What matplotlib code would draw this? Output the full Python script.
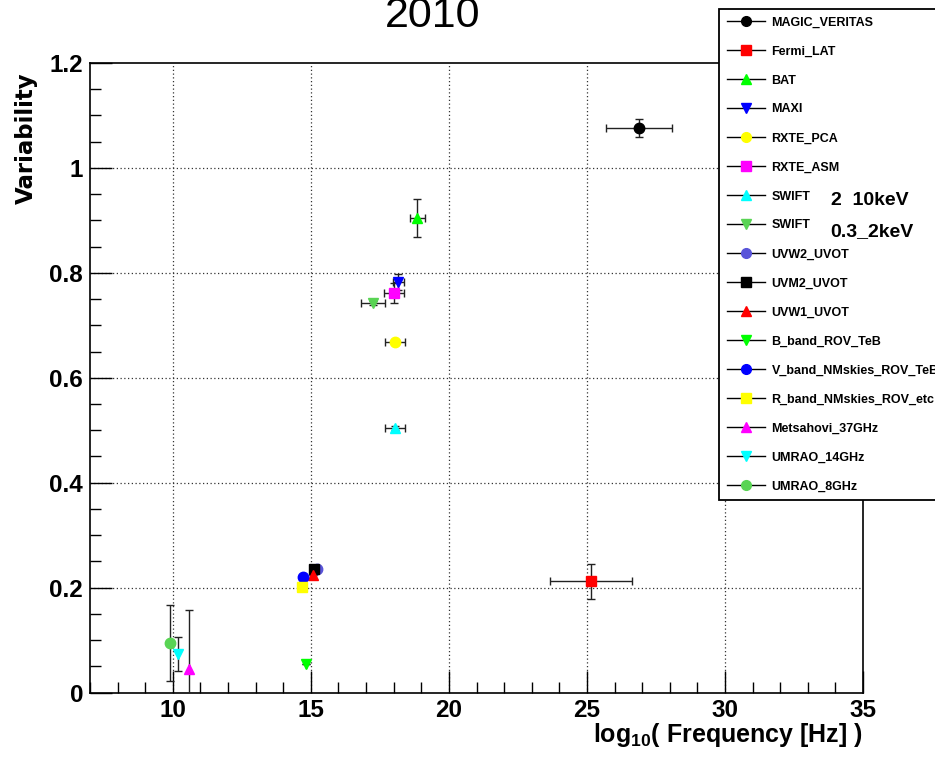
import matplotlib
matplotlib.use("Agg")
import matplotlib.pyplot as plt
from matplotlib.lines import Line2D
from matplotlib.ticker import MultipleLocator
import numpy as np

# ---------------- data ----------------
names = ["MAGIC_VERITAS", "Fermi_LAT", "BAT", "MAXI", "RXTE_PCA", "RXTE_ASM",
         "SWIFT", "SWIFT", "UVW2_UVOT", "UVM2_UVOT", "UVW1_UVOT", "B_band_ROV_TeB",
         "V_band_NMskies_ROV_TeB", "R_band_NMskies_ROV_etc", "Metsahovi_37GHz",
         "UMRAO_14GHz", "UMRAO_8GHz"]
colors = ["#000000", "#ff0000", "#00ff00", "#0000ff", "#ffff00", "#ff00ff",
          "#00ffff", "#59d454", "#5954d9", "#000000", "#ff0000", "#00ff00",
          "#0000ff", "#ffff00", "#ff00ff", "#00ffff", "#59d454"]
markers = ["o", "s", "^", "v", "o", "s", "^", "v", "o", "s", "^", "v",
           "o", "s", "^", "v", "o"]
log_freq = [26.89, 25.14, 18.85, 18.16, 18.05, 18.01, 18.05, 17.25, 15.22, 15.12,
            15.08, 14.83, 14.72, 14.68, 10.59, 10.19, 9.90]
variability = [1.076, 0.212, 0.904, 0.782, 0.668, 0.762, 0.504, 0.742, 0.235, 0.235,
               0.224, 0.054, 0.220, 0.201, 0.045, 0.073, 0.094]
freq_err = [1.20, 1.49, 0.27, 0.20, 0.36, 0.36, 0.36, 0.42, 0, 0, 0, 0, 0, 0, 0, 0, 0]
var_err = [0.017, 0.033, 0.036, 0.015, 0.004, 0.019, 0.004, 0.004, 0, 0, 0, 0, 0, 0,
           0.112, 0.032, 0.073]

x_ticks = [10, 15, 20, 25, 30, 35]
y_ticks = [0, 0.2, 0.4, 0.6, 0.8, 1, 1.2]
y_tick_labels = ["0", "0.2", "0.4", "0.6", "0.8", "1", "1.2"]

# ---------------- figure ----------------
W, H = 935, 760
fig = plt.figure(figsize=(W / 100, H / 100), dpi=100)
L, R, T, B = 90, 863, 63, 692.5
ax = fig.add_axes([L / W, (H - B) / H, (R - L) / W, (B - T) / H])

bold = dict(family="Liberation Sans", weight="bold")

for i in range(len(names)):
    ax.errorbar(log_freq[i], variability[i], xerr=freq_err[i], yerr=var_err[i],
                fmt=markers[i], color=colors[i], ms=7.5, mec=colors[i],
                ecolor="#222222", elinewidth=1.0, capsize=3, capthick=1.0,
                zorder=3)

ax.set_xlim(7, 35)
ax.set_ylim(0, 1.2)
ax.set_xticks(x_ticks)
ax.set_xticklabels([str(v) for v in x_ticks])
ax.set_yticks(y_ticks)
ax.set_yticklabels(y_tick_labels)
ax.xaxis.set_minor_locator(MultipleLocator(1))
ax.yaxis.set_minor_locator(MultipleLocator(0.05))
ax.tick_params(which="both", direction="in", top=False, right=False, color="black")
ax.tick_params(which="major", length=16, width=1.0, pad=5)
ax.tick_params(which="minor", length=8, width=1.0)
for lab in ax.get_xticklabels() + ax.get_yticklabels():
    lab.set_fontproperties(dict(family="Liberation Sans", weight="bold", size=17.5))
for sp in ax.spines.values():
    sp.set_linewidth(1.2)
    sp.set_color("black")

grid_kw = dict(color="#333333", linestyle=(0, (1, 2)), linewidth=0.9, zorder=1)
for xv in [10, 15, 20, 25, 30]:
    ax.axvline(xv, **grid_kw)
for yv in [0.2, 0.4, 0.6, 0.8, 1.0]:
    ax.axhline(yv, **grid_kw)

# axis titles
plt.rcParams["mathtext.fontset"] = "custom"
plt.rcParams["mathtext.bf"] = "Liberation Sans:bold"
plt.rcParams["mathtext.rm"] = "Liberation Sans:bold"
fig.text(R / W, (H - 742) / H, r"log$_{\mathbf{10}}$( Frequency [Hz] )",
         ha="right", va="baseline", fontsize=18, **bold)
fig.text(26 / W, 1 - 138 / H, "Variability", rotation=90, ha="center", va="center",
         fontsize=16.5, family="DejaVu Sans", weight="bold")

# title
fig.text(433 / W, (H - 27) / H, "2010", ha="center", va="baseline",
         fontsize=31, family="Liberation Sans")

# legend
handles = [Line2D([], [], color="black", lw=1.0, marker=markers[i], ms=7,
                  mfc=colors[i], mec=colors[i]) for i in range(len(names))]
leg = fig.legend(handles, names, loc="upper left",
                 bbox_to_anchor=(719 / W, 1 - 9 / H), prop=dict(size=9, **bold),
                 frameon=True, fancybox=False, framealpha=1, edgecolor="black",
                 borderpad=0.6, handlelength=3.1, handletextpad=0.5,
                 labelspacing=1.36, borderaxespad=0)
leg.get_frame().set_linewidth(1.3)

fig.text(831 / W, (H - 205) / H, "2  10keV", ha="left", va="baseline",
         fontsize=14, zorder=10, **bold)
fig.text(830 / W, (H - 236) / H, "0.3_2keV", ha="left", va="baseline",
         fontsize=14, zorder=10, **bold)

fig.savefig("out.png", dpi=100)
